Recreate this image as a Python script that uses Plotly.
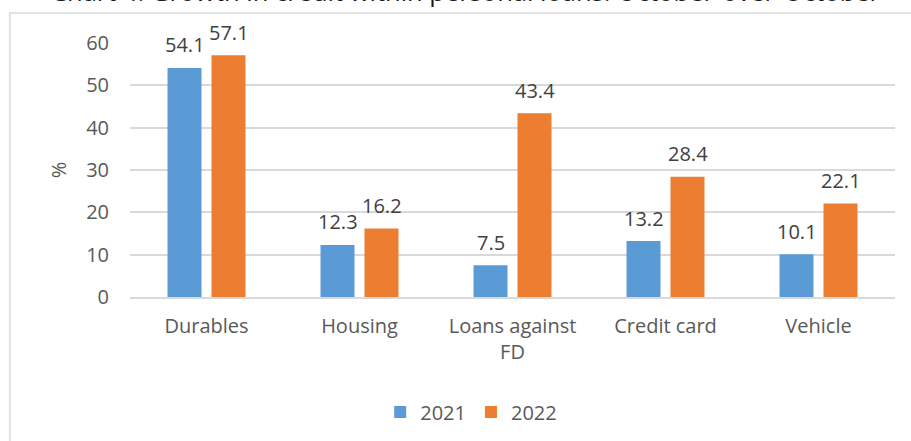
import plotly.graph_objects as go

# ── Data ─────────────────────────────────────────────────────────────────────
categories = ["Durables", "Housing", "Loans against<br>FD", "Credit card", "Vehicle"]
growth_2021 = [54.1, 12.3, 7.5, 13.2, 10.1]
growth_2022 = [57.1, 16.2, 43.4, 28.4, 22.1]
y_ticks = [0, 10, 20, 30, 40, 50, 60]

TITLE = "Chart 4: Growth in credit within personal loans: October-over-October"

# ── Theme ────────────────────────────────────────────────────────────────────
BLUE = "#5b9bd5"
ORANGE = "#ed7d31"
GRID = "#d9d9d9"
TICK_TXT = "#595959"
LABEL_TXT = "#404040"
FONT = "Open Sans, sans-serif"

fig = go.Figure()
fig.add_trace(go.Bar(x=categories, y=growth_2021, name="2021", marker=dict(color=BLUE, line=dict(width=0))))
fig.add_trace(go.Bar(x=categories, y=growth_2022, name="2022", marker=dict(color=ORANGE, line=dict(width=0))))

# data labels, floated above each bar like Excel does
for vals, shift in ((growth_2021, -22), (growth_2022, 22)):
    for cat, v in zip(categories, vals):
        fig.add_annotation(
            x=cat, y=v, xref="x", yref="y", text=f"{v:.1f}",
            showarrow=False, xshift=shift, yshift=23, yanchor="middle",
            font=dict(family=FONT, size=20, color=LABEL_TXT),
        )

# title (partly cropped off the top in the original)
fig.add_annotation(
    x=0.439, y=1.13, xref="paper", yref="paper", xanchor="center", yanchor="bottom",
    text=TITLE, showarrow=False, font=dict(family=FONT, size=25.5, color="#1a1a1a"),
)

# chart-area border
fig.add_shape(
    type="rect", xref="paper", yref="paper",
    x0=-0.157, x1=1.03, y0=-0.6, y1=1.118,
    line=dict(color=GRID, width=1.5), fillcolor="rgba(0,0,0,0)", layer="below",
)

fig.update_layout(
    width=911, height=441,
    paper_bgcolor="white", plot_bgcolor="white",
    font=dict(family=FONT, size=20, color=TICK_TXT),
    margin=dict(l=130, r=16, t=43, b=144, autoexpand=False),
    barmode="group", bargap=0.425, bargroupgap=0.227,
    showlegend=True,
    legend=dict(
        orientation="h", x=0.446, xanchor="center",
        yref="container", y=0.066, yanchor="middle",
        font=dict(size=20, color=TICK_TXT), itemwidth=30, bgcolor="rgba(0,0,0,0)",
    ),
)
fig.update_xaxes(showgrid=False, showline=True, linecolor=GRID, linewidth=1.5, ticks="", ticklabelstandoff=10)
fig.update_yaxes(
    range=[0, 60], tickvals=y_ticks, gridcolor=GRID, gridwidth=1.5,
    zeroline=False, showline=False, ticks="", ticklabelstandoff=20,
    title=dict(text="%", standoff=14, font=dict(size=20, color=TICK_TXT)),
)

# drop the page's default body margin so the figure sits at the window corner
fig.write_html(
    "out.html",
    config={"displayModeBar": False},
    post_script="document.body.style.margin='0';",
)
